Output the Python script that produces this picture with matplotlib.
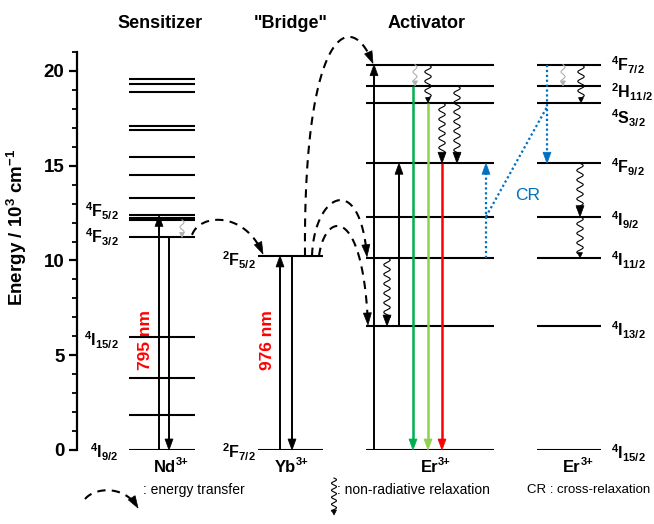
import numpy as np
import matplotlib
matplotlib.use("Agg")
import matplotlib.pyplot as plt
from matplotlib.patches import Polygon

plt.rcParams['font.family'] = ['Liberation Sans', 'DejaVu Sans']
plt.rcParams['font.weight'] = 'bold'
plt.rcParams['mathtext.fontset'] = 'custom'
plt.rcParams['mathtext.rm'] = 'Liberation Sans:bold'
plt.rcParams['mathtext.it'] = 'Liberation Sans:bold'
plt.rcParams['mathtext.bf'] = 'Liberation Sans:bold'
plt.rcParams['mathtext.default'] = 'rm'

# energy levels (10^3 cm-1)
nd_energy = [0.0, 1.85, 3.82, 5.95, 11.22, 12.14, 12.26, 12.38, 13.28,
             14.53, 15.45, 16.89, 17.10, 18.91, 19.30, 19.56]
yb_energy = [0.0, 10.24]
er_energy = [0.0, 6.54, 10.15, 12.31, 15.13, 18.33, 19.21, 20.33]
er_terms = ['$^4$I$_{15/2}$', '$^4$I$_{13/2}$', '$^4$I$_{11/2}$', '$^4$I$_{9/2}$',
            '$^4$F$_{9/2}$', '$^4$S$_{3/2}$', '$^2$H$_{11/2}$', '$^4$F$_{7/2}$']
er_label_y = [-0.2, 6.3, 10.0, 12.1, 14.9, 17.5, 18.9, 20.3]
nd_terms = ['$^4$I$_{9/2}$', '$^4$I$_{15/2}$', '$^4$F$_{3/2}$', '$^4$F$_{5/2}$']
nd_label_y = [-0.1, 5.8, 11.22, 12.6]
yb_terms = ['$^2$F$_{7/2}$', '$^2$F$_{5/2}$']
yb_label_y = [-0.1, 10.0]
ion_names = ['Nd', 'Yb', 'Er', 'Er']

S = 18.95  # pixels per 10^3 cm-1

fig = plt.figure(figsize=(6.54, 5.24), dpi=100)
ax = fig.add_axes([77 / 654, 74 / 524, 573 / 654, 398 / 524])
ax.set_xlim(77, 650)
ax.set_ylim(0, 21)
for s in ['top', 'right', 'bottom']:
    ax.spines[s].set_visible(False)
ax.spines['left'].set_linewidth(1.6)
ax.set_xticks([])
ax.set_yticks([0, 5, 10, 15, 20])
ax.set_yticks(np.arange(0, 22, 1), minor=True)
ax.tick_params(axis='y', which='major', direction='out', length=6, width=1.6,
               labelsize=13.5, pad=3)
ax.tick_params(axis='y', which='minor', direction='out', length=3.5, width=1.3)
ax.set_ylabel('Energy / 10$^3$ cm$^{-1}$', fontsize=13.5, fontweight='bold')
ax.yaxis.set_label_coords(-0.083, 0.56)


def ep(py):
    return (450 - py) / S


def head(tip, d, L=11, W=8, color='k'):
    dx, dy = d
    n = np.hypot(dx, dy)
    ux, uy = dx / n, dy / n
    bx, by = tip[0] - L * ux, tip[1] * S - L * uy
    px, py = -uy, ux
    pts = [(tip[0], tip[1]),
           (bx + W / 2 * px, (by + W / 2 * py) / S),
           (bx - W / 2 * px, (by - W / 2 * py) / S)]
    ax.add_patch(Polygon(pts, closed=True, fc=color, ec=color, lw=0.5,
                         clip_on=False, zorder=5))


def arrow(x, y0, y1, color='k', lw=1.4, ls='-', L=11, W=8):
    sgn = 1 if y1 > y0 else -1
    ax.plot([x, x], [y0, y1 - sgn * (L * 0.6) / S], color=color, lw=lw, ls=ls,
            solid_capstyle='butt', zorder=4)
    head((x, y1), (0, sgn), L, W, color)


def wavy(x, y0, y1, color='k', big=False, lw=0.8, amp=3.2, period=9.5):
    L, W = (11, 8) if big else (5, 5)
    sgn = 1 if y1 > y0 else -1
    length = abs(y1 - y0) * S - L * 0.8
    t = np.linspace(0, length, 200)
    ax.plot(x + amp * np.sin(2 * np.pi * t / period), y0 + sgn * t / S,
            color=color, lw=lw, zorder=4, clip_on=False)
    head((x, y1), (0, sgn), L, W, color)


def transfer(p0, p1, p2, p3, L=12, W=8):
    t = np.linspace(0, 1, 200)[:, None]
    P = [np.array([p[0], p[1] * S]) for p in (p0, p1, p2, p3)]
    B = ((1 - t) ** 3 * P[0] + 3 * (1 - t) ** 2 * t * P[1]
         + 3 * (1 - t) * t ** 2 * P[2] + t ** 3 * P[3])
    seg = np.hypot(np.diff(B[:, 0]), np.diff(B[:, 1]))
    arc = np.concatenate([[0], np.cumsum(seg)])
    keep = arc < arc[-1] - L * 0.7
    ax.plot(B[keep, 0], B[keep, 1] / S, color='k', lw=1.5, ls=(0, (4, 3)),
            zorder=4, clip_on=False)
    d = P[3] - B[-8]
    head(p3, d, L, W)


# levels
for e in nd_energy:
    ax.plot([129, 195], [e, e], color='k', lw=1.5, solid_capstyle='butt')
for e in yb_energy:
    ax.plot([258, 323], [e, e], color='k', lw=1.5, solid_capstyle='butt')
for e in er_energy:
    ax.plot([366, 494], [e, e], color='k', lw=1.5, solid_capstyle='butt')
    ax.plot([537, 601], [e, e], color='k', lw=1.5, solid_capstyle='butt')

# labels
for lab, y in zip(nd_terms, nd_label_y):
    ax.text(119, y, lab, ha='right', va='center', fontsize=11.5, clip_on=False)
for lab, y in zip(yb_terms, yb_label_y):
    ax.text(256, y, lab, ha='right', va='center', fontsize=11.5, clip_on=False)
for lab, y in zip(er_terms, er_label_y):
    ax.text(611, y, lab, ha='left', va='center', fontsize=11.5, clip_on=False)

# Nd3+
arrow(159, 0, nd_energy[7])
arrow(169, nd_energy[4], 0)
wavy(182, nd_energy[5], nd_energy[4], color='#b0b0b0', amp=2)
ax.text(146, 5.8, '795 nm', color='#ff0000', rotation=90, ha='center',
        va='center', fontsize=12.5)

# Yb3+
arrow(280, 0, yb_energy[1])
arrow(292, yb_energy[1], 0)
ax.text(267, 5.8, '976 nm', color='#ff0000', rotation=90, ha='center',
        va='center', fontsize=12.5)

# Er3+ (activator)
arrow(374, 0, er_energy[7])
arrow(399, er_energy[1], er_energy[4])
wavy(387, er_energy[2], er_energy[1], big=True)
arrow(413, er_energy[6], 0, color='#00b050', lw=1.8)
arrow(428, er_energy[5], 0, color='#92d050', lw=1.8)
arrow(442, er_energy[4], 0, color='#ff0000', lw=1.8)
wavy(415, er_energy[7], er_energy[6], color='#b0b0b0', amp=2)
wavy(428, er_energy[7], er_energy[5])
wavy(442, er_energy[5], er_energy[4], big=True)
wavy(457, er_energy[6], er_energy[4], big=True)

# cross-relaxation
blue = '#0070c0'
arrow(486, er_energy[2], er_energy[4], color=blue, lw=1.6, ls=(0, (1, 1.2)))
ax.plot([486, 547], [er_energy[3], 18.1], color=blue, lw=1.6, ls=(0, (1, 1.2)))
arrow(547, er_energy[7], er_energy[4], color=blue, lw=1.6, ls=(0, (1, 1.2)))
ax.text(528, 13.45, 'CR', color=blue, fontsize=12.5, fontweight='normal',
        ha='center', va='center')

# Er3+ (second ion)
wavy(563, er_energy[7], er_energy[6], color='#b0b0b0', amp=2)
wavy(581, er_energy[7], er_energy[5])
wavy(580, er_energy[4], er_energy[3], big=True)
wavy(580, er_energy[3], er_energy[2])

# energy transfer paths
transfer((192, 11.35), (200, 12.5), (245, 12.6), (263, 10.34))
transfer((305, 10.24), (303, 22.0), (350, 23.5), (373, 20.4))
transfer((312, 10.24), (314, 13.5), (360, 14.8), (367, 10.2))
transfer((319, 10.24), (325, 12.6), (363, 13.0), (368, 6.6))

# headers and ion names
for x, s in [(160, 'Sensitizer'), (291, '"Bridge"'), (427, 'Activator')]:
    fig.text(x / 654, 1 - 23 / 524, s, ha='center', va='center', fontsize=13)
for x, s in zip([170, 290, 432, 575], ion_names):
    ax.text(x + 6, ep(467), s, ha='right', va='center', fontsize=12,
            clip_on=False)
    ax.text(x + 5.5, ep(462), '3+', ha='left', va='center', fontsize=8,
            clip_on=False)

# legend
transfer((85, ep(499)), (95, ep(487)), (125, ep(485)), (138, ep(508)))
wavy(334, ep(478), ep(515), amp=2.5, period=7)
fig.text(143 / 654, 1 - 490 / 524, ': energy transfer', fontsize=10,
         fontweight='normal', va='center')
fig.text(337 / 654, 1 - 490 / 524, ': non-radiative relaxation', fontsize=10,
         fontweight='normal', va='center')
fig.text(527 / 654, 1 - 490 / 524, 'CR : cross-relaxation', fontsize=9.5,
         fontweight='normal', va='center')

fig.savefig('out.png', dpi=100)
